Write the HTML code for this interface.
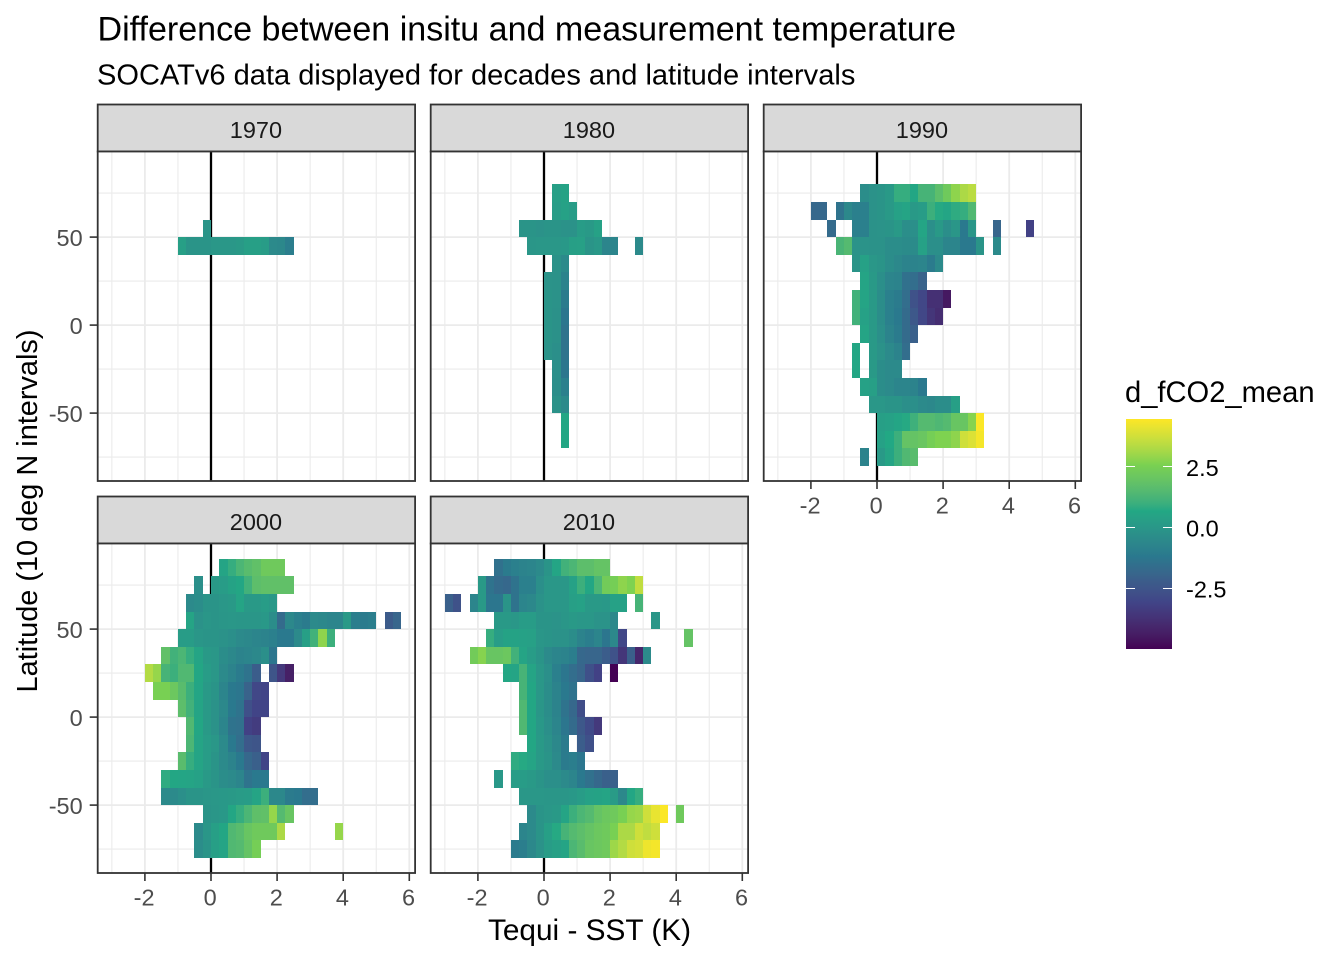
<!DOCTYPE html>
<html lang="en">
<head>
<meta charset="utf-8">
<title>Difference between insitu and measurement temperature</title>
<style>
html,body{margin:0;padding:0;background:#fff;}
svg{display:block;font-family:"Liberation Sans",Arial,sans-serif;}
</style>
</head>
<body>
<svg id="chart" xmlns="http://www.w3.org/2000/svg" width="1344" height="960" viewBox="0 0 1344 960">
  <rect x="0" y="0" width="1344" height="960" fill="#fff"/>
  <text x="97.5" y="40.5" font-size="34.05" fill="#000">Difference between insitu and measurement temperature</text>
  <text x="97" y="84.5" font-size="29.05" fill="#000">SOCATv6 data displayed for decades and latitude intervals</text>
  <text x="589.5" y="940" font-size="29.8" text-anchor="middle" fill="#000">Tequi - SST (K)</text>
  <text transform="translate(37,511) rotate(-90)" font-size="28.9" text-anchor="middle" fill="#000">Latitude (10 deg N intervals)</text>
  <g id="panels"></g>
  <g id="legend">
    <text x="1125" y="402" font-size="29.15" fill="#000">d_fCO2_mean</text>
  </g>
</svg>
<script>
// ---- Data: each row is [latitude lower edge, temperature bin start, cell values]
const decades = [1970, 1980, 1990, 2000, 2010];
const xTickLabels = [-2, 0, 2, 4, 6];
const xMinorTicks = [-3, -1, 1, 3, 5];
const yTickLabels = [-50, 0, 50];
const yMinorTicks = [-75, -25, 25, 75];
const legendTickLabels = [2.5, 0, -2.5];
const fillLimits = [-5, 4.44];
const viridisStops = ['#440154', '#414487', '#2A788E', '#22A884', '#7AD151', '#FDE725'];

const rows1970 = [
  [50, -0.25, [-0.1]],
  [40, -1, [0.3, -0.1, -0.1, -0.1, 0, 0, 0, 0.1, 0.3, 0.3, 0.2, -0.5, -0.6, -1]]
];
const rows1980 = [
  [70, 0.25, [0.3, 0.45]],
  [60, 0.25, [0.25, 0.4, 0.2]],
  [50, -0.75, [-0.1, -0.1, -0.2, -0.1, -0.1, -0.2, -0.2, 0.2, 0.1, 0.4]],
  [40, -0.5, [-0.05, 0, 0, 0, 0.05, 0.3, 0.35, -0.1, 0.05, -0.7, -0.7]],
  [40, 2.75, [-0.5]],
  [30, 0.25, [-0.2, -0.5]],
  [20, 0, [-0.15, -0.2, -0.8]],
  [10, 0, [-0.1, -0.2, -1.1]],
  [0, 0, [-0.1, -0.25, -1.3]],
  [-10, 0, [-0.1, -0.25, -1.4]],
  [-20, 0, [-0.15, -0.3, -1.4]],
  [-30, 0.25, [-0.3, -1.3]],
  [-40, 0.25, [-0.35, -0.9]],
  [-50, 0.25, [-0.2, -0.5]],
  [-60, 0.5, [0.6]],
  [-70, 0.5, [0.6]]
];
const rows1990 = [
  [70, -0.5, [-0.4, -0.2, -0.1, 0.1, 0.9, 0.9, 0.6, 1.2, 1.2, 1.7, 2.2, 2.8, 3.2, 3.4]],
  [60, -2, [-1.8, -1.8]],
  [60, -1.25, [-1.4, -0.6, -0.9, -0.9, -0.2, -0.1, 0.1, 0.4, 0.5, 0.1, 0.2, 1, 0.7, 0.55, 0.8, 0.9, 1.4]],
  [50, -1.5, [-1.7]],
  [50, -0.75, [-0.9, -0.9, -0.2, -0.15, -0.1, 0.1, -0.35, -0.3, 0.55, -0.3, 0.1, -0.35, -0.05, -1.2, -0.05]],
  [50, 3.5, [-1.9]],
  [50, 4.5, [-3.2]],
  [40, -1.25, [1.25, 1.5]],
  [40, -0.75, [-0.15, -0.15, -0.2, -0.2, -0.4, -0.4, -0.45, -0.45, 0.4, -0.3, -0.3, -0.7, -0.7, -1.2, -1.2, -0.1]],
  [40, 3.5, [-0.5]],
  [30, -0.75, [-0.1, 0.4, 0, -0.1, -0.4, -0.6, -0.8, -0.8, -0.7, -1.1, -0.5]],
  [20, -0.5, [0.5, 0.1, -0.3, -0.7, -0.8, -1.5, -1.6, -2]],
  [10, -0.75, [1.1, 0.5, 0.1, -0.4, -0.9, -1.1, -1.6, -2.6, -3, -3.8, -3.8, -4.5]],
  [0, -0.75, [1.1, 0.4, 0.1, -0.4, -0.9, -1.2, -1.7, -2.4, -3, -3.6, -3.9]],
  [-10, -0.5, [0.5, 0.1, -0.3, -0.8, -1.1, -1.7, -2.1]],
  [-20, -0.75, [0.6]],
  [-20, -0.25, [0.1, -0.2, -0.5, -0.8, -1.6]],
  [-30, -0.75, [0.6]],
  [-30, -0.25, [0.1, -0.4, -0.5, -0.5]],
  [-40, -0.5, [0.4, 0.3, -0.4, -0.5, -0.7, -0.7, -0.8, -1.2]],
  [-50, -0.25, [0, 0, -0.1, -0.1, -0.3, -0.3, -0.5, -0.6, -0.4, -0.4, 0.3]],
  [-60, 0, [0.3, 0.4, 0.55, 0.7, 1.05, 1.5, 1.5, 1.35, 1.5, 2, 2, 2.7, 4.4]],
  [-70, 0, [0.4, 0.65, 1, 1.9, 1.9, 2.05, 2.4, 2.6, 2.6, 2.8, 3.7, 3.9, 4.3]],
  [-80, -0.5, [-0.8]],
  [-80, 0, [0.1, 0.5, 1, 1.4, 1.6]]
];
const rows2000 = [
  [80, 0.25, [0.5, 0.9, 1.3, 1.6, 1.8, 2.2, 2.2, 2.2]],
  [70, -0.5, [-0.3]],
  [70, 0, [0.1, 0.2, 0.45, 0.6, 1.1, 1.7, 1.8, 1.8, 1.8, 1.8]],
  [60, -0.75, [-0.5, -0.4, -0.1, -0.1, 0, 0.1, 0.5, 0.1, 0.1, 0.2, 0.05]],
  [50, -0.75, [0.5, -0.2, -0.05, -0.1, -0.05, 0, -0.05, -0.05, -0.05, 0.05, -0.4, -1.7, -0.6, -0.9, -1.1, -0.5, -0.6, -0.7, -0.7, 0.1, -1, -1.1, -1]],
  [50, 5.25, [-2.3, -1.9]],
  [40, -1, [0.2, 0.2, -0.05, -0.1, -0.1, -0.2, -0.3, -0.5, -0.6, -0.7, -0.8, -0.9, -1.2, -1.2, -0.5, 0.3, 1.1, 2.8, 1]],
  [30, -1.5, [1.8, 1.1, 1.3, 0.9, 0.5, 0.1, 0, -0.4, -0.6, -0.8, -0.7, -0.6, -0.3, -1.3]],
  [20, -2, [3.3, 2.9, 1.2, 1, 1.4, 1.4, 0.6, 0.2, 0, -0.5, -0.8, -1.1, -1.4, -2.2]],
  [20, 1.75, [-2.5, -3.5, -4.3]],
  [10, -1.75, [2.5, 2.5, 2.1, 1.6, 1, 0.55, 0.1, -0.1, -0.7, -1.2, -1.3, -2, -3, -3.1]],
  [0, -1, [1.7, 1.1, 0.5, 0.1, -0.2, -0.6, -1.2, -1.4, -2.7, -3.1, -3.1]],
  [-10, -0.75, [1.4, 0.6, 0.1, -0.2, -0.7, -1.4, -1.5, -3.2, -3.4]],
  [-20, -0.75, [1.3, 0.5, 0.2, 0, -0.5, -1.2, -1.6, -2.4, -2.5]],
  [-30, -1, [1.6, 0.9, 0.5, 0.2, -0.1, -0.5, -0.8, -1.2, -1.8, -2.1, -3.1]],
  [-40, -1.5, [0.8, 0.6, 0.55, 0.5, 0.4, 0.1, -0.1, -0.4, -0.5, -0.7, -1.4, -1.2, -1.2]],
  [-50, -1.5, [-0.5, -0.5, -0.3, -0.1, -0.1, -0.05, 0, 0.05, 0.1, 0.15, 0.2, 0.5, 1, -0.6, -0.6, -1.1, -1.2, -1.6, -1.6]],
  [-60, -0.25, [-0.1, -0.05, 0.05, 0.6, 0.9, 1.3, 1.75, 1.8, 2.9, 1.5, 2]],
  [-70, -0.5, [-0.5, -0.05, 0.3, 0.6, 1.4, 1.6, 2, 2.2, 2.2, 2.2, 3.2]],
  [-70, 3.75, [2.9]],
  [-80, -0.5, [-0.4, -0.1, 0.3, 0.5, 1.4, 1.5, 1.9, 2.4]]
];
const rows2010 = [
  [80, -1.5, [-1.5, -1.1, -0.9, -0.8, -0.7, -0.5, -0.1, 0.55, 1.1, 1.3, 1.7, 1.7, 1.9, 1.9]],
  [70, -2, [0.1, -1.4, -1.7, -1.8, -1.4, -0.9, -0.9, -0.3, 0, 0, 0, 0.4, 1, 0.6, 1.3, 2.3, 2.4, 2.8, 2.6, 3.5]],
  [60, -3, [-2.1, -2.6]],
  [60, -2.25, [-0.7, 0.1, -1.3, -1.3, -0.1, -1.4, -0.7, -0.6, -0.2, 0, 0, 0, 0.3, 0.4, 0.1, 0.1, 0.05, 0.4, 0.4]],
  [60, 2.75, [1.2]],
  [50, -1.5, [0.1, 0.1, 0, 0.2, 0.2, -0.1, -0.1, -0.15, -0.05, 0.1, 0, 0, -0.15, -0.15, -0.6]],
  [50, 3.25, [-0.05]],
  [40, -1.75, [0.9, 0.25, 0.45, 0.45, 0.4, 0.35, -0.05, -0.1, -0.2, -0.2, -0.4, -0.8, -1, -0.7, -1.3, -0.6, -3]],
  [40, 4.25, [1.9]],
  [30, -2.25, [2.3, 2.7, 2, 2, 2.1, 1.1, 0.5, 0.2, -0.1, -0.5, -0.7, -0.8, -1, -1.8, -1.9, -1.9, -2.2, -2.6, -3.6, -2.1, -4.1, -0.5]],
  [20, -1.25, [0.6, 0.5, 1.2, 0.5, 0, -0.3, -0.9, -1.3, -1.6, -1.9, -2.7, -3.2]],
  [20, 2, [-5]],
  [10, -0.75, [1.2, 0.6, 0, -0.4, -0.8, -1.2, -1.4]],
  [0, -0.75, [1.4, 0.6, -0.05, -0.4, -0.8, -1.4, -1.8, -2.8]],
  [-10, -0.75, [1.4, 0.6, 0.05, -0.3, -0.7, -1.3, -1.7, -2.4, -2.9, -3.5]],
  [-20, -0.5, [0.6, 0.1, -0.2, -0.6, -1.1]],
  [-20, 1, [-2.2, -2.7]],
  [-30, -1, [0.8, 0.7, 0.5, 0.1, -0.1, -0.5, -1.1, -1, -1.3]],
  [-40, -1.5, [0.05]],
  [-40, -1, [0.2, 0.2, 0.1, -0.1, -0.3, -0.3, -0.5, -0.7, -1.2, -1.5, -1.8, -2.1, -2.1]],
  [-50, -0.75, [0, 0, 0, -0.05, -0.05, -0.05, 0.05, 0.2, 0.4, 0.45, 0.5, 0.15, -0.6, 0.6, 0.9]],
  [-60, -0.5, [-0.5, -0.1, 0, 0.1, 0.5, 1, 1.3, 1.5, 1.9, 2.1, 2.2, 2.5, 2.9, 3, 3.7, 4.1, 4.4]],
  [-60, 4, [2.2]],
  [-70, -0.75, [-0.7, -0.5, -0.1, 0.3, 0.7, 1.2, 1.5, 1.7, 1.9, 2.1, 2.2, 2.5, 3.2, 3.2, 3.7, 3.5, 3.7]],
  [-80, -1, [-1.1, -1, -0.6, -0.2, 0.2, 0.35, 0.5, 1.3, 1.6, 2, 2.1, 2.2, 3, 3.3, 3.7, 3.8, 4.2, 4.3]]
];
const decadeRows = [rows1970, rows1980, rows1990, rows2000, rows2010];
const binWidth = 0.25;
const binHeight = 10;

// ---- Layout
const NS = 'http://www.w3.org/2000/svg';
const panelWidth = 317.4;
const panelHeight = 329.5;
const stripHeight = 47;
const panelLefts = [97.7, 430.7, 763.7];
const panelTops = [151.5, 543.5];
const xPerK = 33.05;
const yPerDeg = 1.76;
const legendTop = 419;
const legendBottom = 649;

function xScale(panelLeft, t) { return panelLeft + 113.3 + t * xPerK; }
function yScale(panelTop, lat) { return panelTop + 173.6 - lat * yPerDeg; }
function legendY(v) {
  return legendBottom - (v - fillLimits[0]) / (fillLimits[1] - fillLimits[0]) * (legendBottom - legendTop);
}

// ---- Colour scale: viridis stops interpolated in CIE Lab
function hexToLab(hex) {
  const c = [1, 3, 5].map(function (i) {
    const u = parseInt(hex.substr(i, 2), 16) / 255;
    return u <= 0.04045 ? u / 12.92 : Math.pow((u + 0.055) / 1.055, 2.4);
  });
  const X = (0.4124 * c[0] + 0.3576 * c[1] + 0.1805 * c[2]) / 0.95047;
  const Y = 0.2126 * c[0] + 0.7152 * c[1] + 0.0722 * c[2];
  const Z = (0.0193 * c[0] + 0.1192 * c[1] + 0.9505 * c[2]) / 1.08883;
  const f = function (v) { return v > 0.008856 ? Math.cbrt(v) : 7.787 * v + 16 / 116; };
  return [116 * f(Y) - 16, 500 * (f(X) - f(Y)), 200 * (f(Y) - f(Z))];
}
function labToHex(lab) {
  const fy = (lab[0] + 16) / 116;
  const fx = lab[1] / 500 + fy;
  const fz = fy - lab[2] / 200;
  const g = function (v) { return v * v * v > 0.008856 ? v * v * v : (v - 16 / 116) / 7.787; };
  const X = g(fx) * 0.95047, Y = g(fy), Z = g(fz) * 1.08883;
  const lin = [
    3.2406 * X - 1.5372 * Y - 0.4986 * Z,
    -0.9689 * X + 1.8758 * Y + 0.0415 * Z,
    0.0557 * X - 0.2040 * Y + 1.0570 * Z
  ];
  return '#' + lin.map(function (u) {
    u = Math.max(0, Math.min(1, u));
    const s = u <= 0.0031308 ? 12.92 * u : 1.055 * Math.pow(u, 1 / 2.4) - 0.055;
    return ('0' + Math.round(s * 255).toString(16)).slice(-2);
  }).join('');
}
const labStops = viridisStops.map(hexToLab);
function fillColor(v) {
  let t = (v - fillLimits[0]) / (fillLimits[1] - fillLimits[0]);
  t = Math.max(0, Math.min(1, t)) * (labStops.length - 1);
  const i = Math.min(Math.floor(t), labStops.length - 2);
  const f = t - i;
  return labToHex(labStops[i].map(function (a, k) { return a + (labStops[i + 1][k] - a) * f; }));
}

function svgEl(tag, attrs, parent) {
  const el = document.createElementNS(NS, tag);
  Object.keys(attrs).forEach(function (k) { el.setAttribute(k, attrs[k]); });
  parent.appendChild(el);
  return el;
}

// ---- Panels
const panelsRoot = document.getElementById('panels');
decades.forEach(function (decade, idx) {
  const col = idx % 3;
  const rowIdx = idx < 3 ? 0 : 1;
  const left = panelLefts[col];
  const top = panelTops[rowIdx];
  const right = left + panelWidth;
  const bottom = top + panelHeight;

  const group = svgEl('g', {}, panelsRoot);
  
  

  const strip = svgEl('rect', { x: left, y: top - stripHeight, width: panelWidth, height: stripHeight, fill: '#d9d9d9', stroke: '#333333', 'stroke-width': 1.8 }, group);
  
  
  const stripLabel = svgEl('text', { x: left + panelWidth / 2 - 0.5, y: top - 13.5, 'font-size': 23.5, 'text-anchor': 'middle', fill: '#1a1a1a' }, group);
  
  
  stripLabel.textContent = String(decade);

  const bg = svgEl('rect', { x: left, y: top, width: panelWidth, height: panelHeight, fill: '#fff' }, group);
  
  

  xMinorTicks.forEach(function (t) {
    const x = xScale(left, t);
    const line = svgEl('line', { x1: x, x2: x, y1: top, y2: bottom, stroke: '#ebebeb', 'stroke-width': 1.1 }, group);
    
    
  });
  yMinorTicks.forEach(function (lat) {
    const y = yScale(top, lat);
    const line = svgEl('line', { x1: left, x2: right, y1: y, y2: y, stroke: '#ebebeb', 'stroke-width': 1.1 }, group);
    
    
  });
  xTickLabels.forEach(function (t) {
    const x = xScale(left, t);
    const line = svgEl('line', { x1: x, x2: x, y1: top, y2: bottom, stroke: '#ebebeb', 'stroke-width': 1.8 }, group);
    
    
  });
  yTickLabels.forEach(function (lat) {
    const y = yScale(top, lat);
    const line = svgEl('line', { x1: left, x2: right, y1: y, y2: y, stroke: '#ebebeb', 'stroke-width': 1.8 }, group);
    
    
  });

  const zeroLine = svgEl('line', { x1: xScale(left, 0), x2: xScale(left, 0), y1: top, y2: bottom, stroke: '#000', 'stroke-width': 2.3 }, group);
  
  

  decadeRows[idx].forEach(function (row) {
    const lat = row[0];
    const start = row[1];
    row[2].forEach(function (value, k) {
      const t = start + k * binWidth;
      const x0 = Math.round(xScale(left, t));
      const x1 = Math.round(xScale(left, t + binWidth));
      const y0 = Math.round(yScale(top, lat + binHeight));
      const y1 = Math.round(yScale(top, lat));
      const cell = svgEl('rect', { x: x0, y: y0, width: x1 - x0, height: y1 - y0, fill: fillColor(value), 'shape-rendering': 'crispEdges' }, group);
      
      
    });
  });

  const border = svgEl('rect', { x: left, y: top, width: panelWidth, height: panelHeight, fill: 'none', stroke: '#333333', 'stroke-width': 1.8 }, group);
  
  

  // x axis under the last panel of each column
  if (rowIdx === 1 || col === 2) {
    xTickLabels.forEach(function (t) {
      const x = xScale(left, t);
      const tick = svgEl('line', { x1: x, x2: x, y1: bottom, y2: bottom + 8, stroke: '#333333', 'stroke-width': 1.6 }, group);
      
      
      const label = svgEl('text', { x: x - 0.8, y: bottom + 32.5, 'font-size': 23.5, 'text-anchor': 'middle', fill: '#4d4d4d' }, group);
      
      
      label.textContent = String(t);
    });
  }
  // y axis on the left column
  if (col === 0) {
    yTickLabels.forEach(function (lat) {
      const y = yScale(top, lat);
      const tick = svgEl('line', { x1: left - 8, x2: left, y1: y, y2: y, stroke: '#333333', 'stroke-width': 1.6 }, group);
      
      
      const label = svgEl('text', { x: left - 15, y: y + 8.8, 'font-size': 23.5, 'text-anchor': 'end', fill: '#4d4d4d' }, group);
      
      
      label.textContent = String(lat);
    });
  }
});

// ---- Legend colour bar
const legendRoot = document.getElementById('legend');
const defs = svgEl('defs', {}, legendRoot);
const grad = svgEl('linearGradient', { id: 'legendGradient', x1: 0, y1: 1, x2: 0, y2: 0 }, defs);
for (let i = 0; i <= 60; i++) {
  const f = i / 60;
  svgEl('stop', { offset: f, 'stop-color': fillColor(fillLimits[0] + f * (fillLimits[1] - fillLimits[0])) }, grad);
}
const bar = svgEl('rect', { x: 1126, y: legendTop, width: 46, height: legendBottom - legendTop, fill: 'url(#legendGradient)' }, legendRoot);


legendTickLabels.forEach(function (v) {
  const y = Math.round(legendY(v)) + 0.5;
  const tickL = svgEl('line', { x1: 1126, x2: 1135, y1: y, y2: y, stroke: '#fff', 'stroke-width': 1 }, legendRoot);
  
  
  const tickR = svgEl('line', { x1: 1163, x2: 1172, y1: y, y2: y, stroke: '#fff', 'stroke-width': 1 }, legendRoot);
  
  
  const label = svgEl('text', { x: 1186, y: legendY(v) + 9.5, 'font-size': 23.5, fill: '#000' }, legendRoot);
  
  
  label.textContent = v.toFixed(1);
});
</script>
</body>
</html>
